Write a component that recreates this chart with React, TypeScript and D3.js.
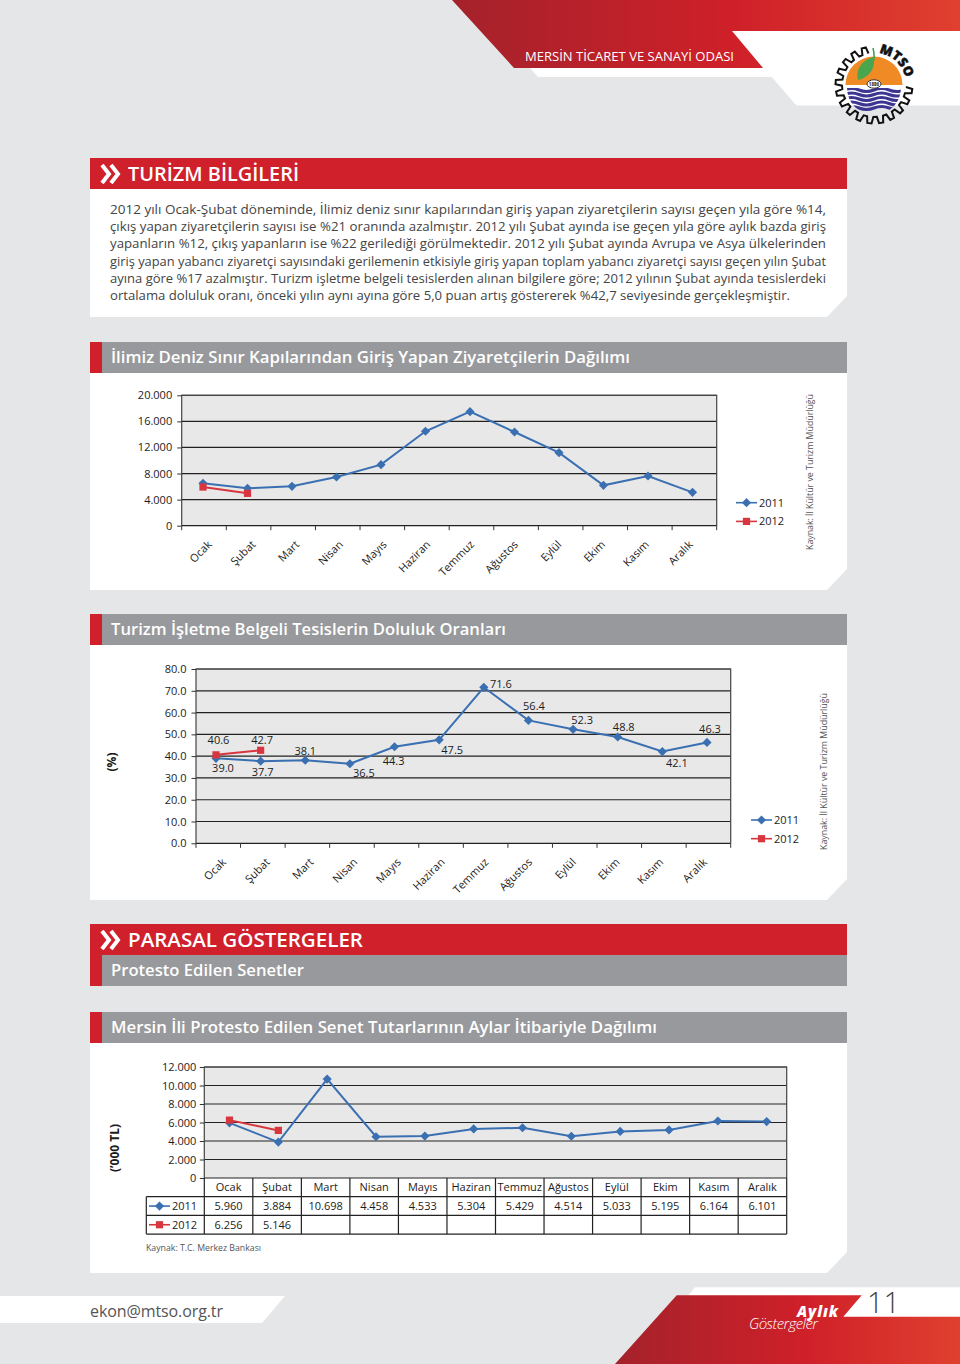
import React, { useEffect, useRef } from 'react';
import * as d3 from 'd3';

const months = ['Ocak', 'Şubat', 'Mart', 'Nisan', 'Mayıs', 'Haziran', 'Temmuz', 'Ağustos', 'Eylül', 'Ekim', 'Kasım', 'Aralık'];
const years = ['2011', '2012'];

// ziyaretci
const visitors2011 = [6500, 5730, 6040, 7470, 9360, 14480, 17490, 14370, 11200, 6190, 7620, 5115];
const visitors2012 = [5930, 4960];
const visitorTicks = [0, 4000, 8000, 12000, 16000, 20000];
const visitorTickLabels = ['0', '4.000', '8.000', '12.000', '16.000', '20.000'];

// doluluk
const occupancy2011 = [39.0, 37.7, 38.1, 36.5, 44.3, 47.5, 71.6, 56.4, 52.3, 48.8, 42.1, 46.3];
const occupancy2012 = [40.6, 42.7];
const occupancyTicks = [0, 10, 20, 30, 40, 50, 60, 70, 80];
const occupancyShift2011 = [[7, 10], [2, 11], [0, -9], [14, 9.5], [-1, 14.5], [13, 10], [17, -3], [5.5, -14], [9, -9], [6, -10], [14.5, 11.5], [3, -13.5]];
const occupancyShift2012 = [[2.5, -15], [1.5, -10]];

// protesto
const protest2011 = [5960, 3884, 10698, 4458, 4533, 5304, 5429, 4514, 5033, 5195, 6164, 6101];
const protest2012 = [6256, 5146];
const protestTicks = [0, 2000, 4000, 6000, 8000, 10000, 12000];
const protestTickLabels = ['0', '2.000', '4.000', '6.000', '8.000', '10.000', '12.000'];

const bodyLines = [
  '2012 yılı Ocak-Şubat döneminde, İlimiz deniz sınır kapılarından giriş yapan ziyaretçilerin sayısı geçen yıla göre %14,',
  'çıkış yapan ziyaretçilerin sayısı ise %21 oranında azalmıştır. 2012 yılı Şubat ayında ise geçen yıla göre aylık bazda giriş',
  'yapanların %12, çıkış yapanların ise %22 gerilediği görülmektedir. 2012 yılı Şubat ayında Avrupa ve Asya ülkelerinden',
  'giriş yapan yabancı ziyaretçi sayısındaki gerilemenin etkisiyle giriş yapan toplam yabancı ziyaretçi sayısı geçen yılın Şubat',
  'ayına göre %17 azalmıştır. Turizm işletme belgeli tesislerden alınan bilgilere göre; 2012 yılının Şubat ayında tesislerdeki',
  'ortalama doluluk oranı, önceki yılın aynı ayına göre 5,0 puan artış göstererek %42,7 seviyesinde gerçekleşmiştir.',
];
const bodyWidths = [716, 716, 716, 716, 716, 680];

const FONT = '"Open Sans", "Noto Sans", sans-serif';
const BLUE = '#3a70b2';
const RED = '#d8363f';
const INK = '#1c1c1c';
const SOURCE = 'Kaynak: İl Kültür ve Turizm Müdürlüğü';

const diamond = d3.symbol().type(d3.symbolSquare).size(42)();
const square = d3.symbol().type(d3.symbolSquare).size(52)();

const Marker = ({ kind, x, y }) =>
  kind === 0 ? (
    <path d={diamond} fill={BLUE} transform={`translate(${x},${y}) rotate(45)`} />
  ) : (
    <path d={square} fill={RED} transform={`translate(${x},${y})`} />
  );

// sol eksen, d3 axis ile
const YAxis = ({ y, left, ticks, labels, padding }) => {
  const ref = useRef(null);
  useEffect(() => {
    const axis = d3
      .axisLeft(y)
      .tickValues(ticks)
      .tickSize(4.5)
      .tickPadding(padding)
      .tickFormat((d, i) => labels[i]);
    const g = d3.select(ref.current).call(axis);
    g.select('.domain').remove();
    g.selectAll('line').attr('stroke', '#333');
    g.selectAll('text').attr('fill', INK).attr('font-size', 11).attr('font-family', FONT);
    g.attr('font-family', null);
  }, []);
  return <g ref={ref} transform={`translate(${left},0)`} />;
};

const Legend = ({ x, y }) => (
  <g>
    {years.map((yr, i) => {
      const rowY = y + i * 18.7;
      return (
        <g key={yr}>
          <line x1={x} x2={x + 21} y1={rowY} y2={rowY} stroke={i === 0 ? BLUE : RED} strokeWidth={1.6} />
          <Marker kind={i} x={x + 10.5} y={rowY} />
          <text x={x + 23} y={rowY + 4} fontSize={11} fill={INK} fontFamily={FONT}>{yr}</text>
        </g>
      );
    })}
  </g>
);

const Plot = ({ box, pointRange, y, ticks, series }) => {
  const px = d3.scalePoint().domain(months).range(pointRange);
  const line = d3
    .line()
    .x((d, i) => px(months[i]))
    .y((d) => y(d));
  return (
    <g>
      <rect x={box.left} y={box.top} width={box.right - box.left} height={box.bottom - box.top} fill="#e8e8e8" />
      {ticks.map((t) => (
        <line key={t} x1={box.left} x2={box.right} y1={y(t)} y2={y(t)} stroke="#222" strokeWidth={1.2} />
      ))}
      <path
        d={`M${box.left},${box.bottom}V${box.top}H${box.right}V${box.bottom}`}
        fill="none"
        stroke="#444"
        strokeWidth={1.2}
      />
      {series.map((values, k) => (
        <g key={k}>
          <path d={line(values)} fill="none" stroke={k === 0 ? BLUE : RED} strokeWidth={2} />
          {values.map((v, i) => (
            <Marker key={i} kind={k} x={px(months[i])} y={y(v)} />
          ))}
        </g>
      ))}
    </g>
  );
};

const MonthAxis = ({ box }) => {
  const band = d3.scaleBand().domain(months).range([box.left, box.right]);
  const edges = [...months.map((m) => band(m)), box.right];
  // etiketler eksenden biraz daha sik duruyor
  const labelX = d3.scalePoint().domain(months).range([box.left + 30.8, box.left + 511.8]);
  return (
    <g>
      {edges.map((x, i) => (
        <line key={i} x1={x} x2={x} y1={box.bottom} y2={box.bottom + 4.5} stroke="#333" />
      ))}
      {months.map((m) => (
        <text
          key={m}
          textAnchor="end"
          fontSize={11}
          fill={INK}
          fontFamily={FONT}
          transform={`translate(${labelX(m)},${box.bottom + 19.5}) rotate(-45)`}
        >
          {m}
        </text>
      ))}
    </g>
  );
};

const VisitorChart = () => {
  const box = { left: 181.7, right: 716.7, top: 395.3, bottom: 525.7 };
  const y = d3.scaleLinear().domain([0, 20000]).range([box.bottom, box.top]);
  return (
    <g>
      <Plot box={box} pointRange={[203, 692.5]} y={y} ticks={visitorTicks} series={[visitors2011, visitors2012]} />
      <YAxis y={y} left={box.left} ticks={visitorTicks} labels={visitorTickLabels} padding={5} />
      <MonthAxis box={box} />
      <Legend x={736} y={502.7} />
      <text transform="translate(813,550) rotate(-90)" fontSize={8.8} fill="#555" fontFamily={FONT} textLength={156} lengthAdjust="spacingAndGlyphs">{SOURCE}</text>
    </g>
  );
};

const OccupancyChart = () => {
  const box = { left: 196, right: 730.7, top: 669, bottom: 843.3 };
  const y = d3.scaleLinear().domain([0, 80]).range([box.bottom, box.top]);
  const px = d3.scalePoint().domain(months).range([216, 707]);
  const labels = (values, shifts) =>
    values.map((v, i) => (
      <text
        key={i}
        x={px(months[i]) + shifts[i][0]}
        y={y(v) + shifts[i][1] + 4}
        textAnchor="middle"
        fontSize={11}
        fill={INK}
        fontFamily={FONT}
      >
        {v.toFixed(1)}
      </text>
    ));
  return (
    <g>
      <Plot box={box} pointRange={[216, 707]} y={y} ticks={occupancyTicks} series={[occupancy2011, occupancy2012]} />
      <YAxis y={y} left={box.left} ticks={occupancyTicks} labels={occupancyTicks.map((t) => t.toFixed(1))} padding={5} />
      <MonthAxis box={box} />
      {labels(occupancy2011, occupancyShift2011)}
      {labels(occupancy2012, occupancyShift2012)}
      <Legend x={751} y={820} />
      <text transform="translate(116,762) rotate(-90)" textAnchor="middle" fontSize={12} fontWeight={700} fill={INK} fontFamily={FONT}>(%)</text>
      <text transform="translate(827,850) rotate(-90)" fontSize={8.8} fill="#555" fontFamily={FONT} textLength={157} lengthAdjust="spacingAndGlyphs">{SOURCE}</text>
    </g>
  );
};

const ProtestChart = () => {
  const box = { left: 204.3, right: 786.7, top: 1067, bottom: 1178 };
  const rowH = 18.7;
  const tableLeft = 146.3;
  const y = d3.scaleLinear().domain([0, 12000]).range([box.bottom, box.top]);
  const band = d3.scaleBand().domain(months).range([box.left, box.right]);
  const edges = [...months.map((m) => band(m)), box.right];
  const cell = (text, m, row) => (
    <text
      key={`${m}-${row}`}
      x={band(m) + band.bandwidth() / 2}
      y={box.bottom + rowH * row + 13.3}
      textAnchor="middle"
      fontSize={11}
      fill={INK}
      fontFamily={FONT}
    >
      {text}
    </text>
  );
  const fmt = (v) => d3.format(',')(v).replace(',', '.');
  return (
    <g>
      <Plot box={box} pointRange={[229.5, 766.7]} y={y} ticks={protestTicks} series={[protest2011, protest2012]} />
      <YAxis y={y} left={box.left} ticks={protestTicks} labels={protestTickLabels} padding={3.5} />
      {[1, 2, 3].map((r) => (
        <line key={r} x1={tableLeft} x2={box.right} y1={box.bottom + r * rowH} y2={box.bottom + r * rowH} stroke="#222" strokeWidth={1.2} />
      ))}
      {edges.map((x, i) => (
        <line key={i} x1={x} x2={x} y1={box.bottom} y2={box.bottom + 3 * rowH} stroke="#222" strokeWidth={1.2} />
      ))}
      <line x1={tableLeft} x2={tableLeft} y1={box.bottom + rowH} y2={box.bottom + 3 * rowH} stroke="#222" strokeWidth={1.2} />
      {months.map((m) => cell(m, m, 0))}
      {protest2011.map((v, i) => cell(fmt(v), months[i], 1))}
      {protest2012.map((v, i) => cell(fmt(v), months[i], 2))}
      <Legend x={149} y={box.bottom + 1.5 * rowH} />
      <text transform="translate(119,1148) rotate(-90)" textAnchor="middle" fontSize={12} fontWeight={700} fill={INK} fontFamily={FONT}>(’000 TL)</text>
      <text x={146} y={1250.5} fontSize={8.8} fill="#555" fontFamily={FONT} textLength={115} lengthAdjust="spacingAndGlyphs">Kaynak: T.C. Merkez Bankası</text>
    </g>
  );
};

const Panel = ({ top, bottom }) => (
  <path d={`M90,${top}H847V${bottom - 21}L827,${bottom}H90Z`} fill="#fff" />
);

const Chevrons = ({ y }) => (
  <path
    d={`M102,${y - 9}L109,${y}L102,${y + 9} M111,${y - 9}L118,${y}L111,${y + 9}`}
    fill="none"
    stroke="#fff"
    strokeWidth={4}
    strokeLinejoin="miter"
  />
);

const RedHeader = ({ top, title, width }) => (
  <g>
    <rect x={90} y={top} width={757} height={31} fill="#cf202c" />
    <Chevrons y={top + 16} />
    <text x={128} y={top + 22.5} fontSize={20} fontWeight={600} fill="#fff" fontFamily={FONT} textLength={width} lengthAdjust="spacingAndGlyphs">{title}</text>
  </g>
);

const GrayHeader = ({ top, title, width }) => (
  <g>
    <rect x={90} y={top} width={12} height={31} fill="#cf202c" />
    <rect x={102} y={top} width={745} height={31} fill="#97999c" />
    <text x={111} y={top + 21} fontSize={17} fontWeight={600} fill="#fff" fontFamily={FONT} textLength={width} lengthAdjust="spacingAndGlyphs">{title}</text>
  </g>
);

const Logo = () => {
  const cx = 874;
  const cy = 85;
  const steps = 15;
  const start = Math.PI * 0.52;
  const end = Math.PI * 1.98;
  const pts = [];
  for (let i = 0; i < steps; i++) {
    const a = start + ((end - start) * i) / steps;
    const w = (end - start) / steps;
    pts.push([a, 32], [a + w * 0.14, 38.5], [a + w * 0.5, 38.5], [a + w * 0.64, 32]);
  }
  const gear = d3.lineRadial()(pts);
  const half = d3.arc()({ innerRadius: 0, outerRadius: 28.5, startAngle: -Math.PI / 2, endAngle: Math.PI / 2 });
  const waveY = [90, 94.5, 99, 103.5, 108];
  const wave = (y0) =>
    `M${cx - 30},${y0} q7.5,-3 15,0 t15,0 t15,0 t15,0`;
  return (
    <g>
      <path d={gear} transform={`translate(${cx},${cy})`} fill="none" stroke="#111" strokeWidth={2} />
      <path d={half} transform={`translate(${cx},${cy})`} fill="#f08a24" />
      <clipPath id="sea">
        <path d={`M${cx - 27},${cy + 3}H${cx + 27}A27,27 0 0 1 ${cx - 27},${cy + 3}Z`} />
      </clipPath>
      <g clipPath="url(#sea)">
        {waveY.map((w) => (
          <path key={w} d={wave(w)} fill="none" stroke="#3c3592" strokeWidth={3} />
        ))}
      </g>
      <path d="M873,48 C875,56 874,60 873,62" fill="none" stroke="#3d9b47" strokeWidth={1.5} />
      <path d="M873,57 C877,68 868,78 858,80 C855,70 862,60 873,57Z" fill="#4aa64e" />
      <ellipse cx={874} cy={84} rx={7} ry={4.2} fill="#fff" stroke="#333" strokeWidth={1} />
      <text x={874} y={85.7} textAnchor="middle" fontSize={4.5} fontWeight={700} fill="#222" fontFamily={FONT}>1886</text>
      <path id="mtsoArc" d={`M${cx + 5},${cy - 32} A32,32 0 0 1 ${cx + 32},${cy - 3}`} fill="none" />
      <text fontSize={13} fontWeight={800} fill="#111" fontFamily={FONT} stroke="#111" strokeWidth={0.5}>
        <textPath href="#mtsoArc">MTSO</textPath>
      </text>
    </g>
  );
};

export default function App() {
  return (
    <svg
      width={960}
      height={1364}
      viewBox="0 0 960 1364"
      style={{ position: 'absolute', left: 0, top: 0, display: 'block' }}
    >
      <defs>
        <linearGradient id="banner" x1="0" x2="1" y1="0" y2="0">
          <stop offset="0" stopColor="#a4222b" />
          <stop offset="0.55" stopColor="#cf2029" />
          <stop offset="1" stopColor="#e0402f" />
        </linearGradient>
      </defs>
      <rect width={960} height={1364} fill="#e4e6e8" />

      {/* ust bant */}
      <path d="M538,68H763L732,31H960V105.5H796.5L771.7,77H538Z" fill="#fff" />
      <path d="M530,68H770L772,77H538Z" fill="#fff" />
      <path d="M452,0H960V31H732L763,68H514Z" fill="url(#banner)" />
      <text x={525} y={60.5} fontSize={12.5} fill="#fff" fontFamily={FONT} textLength={209} lengthAdjust="spacingAndGlyphs">MERSİN TİCARET VE SANAYİ ODASI</text>
      <Logo />

      <RedHeader top={158} title="TURİZM BİLGİLERİ" width={171} />
      <Panel top={189} bottom={317} />
      {bodyLines.map((t, i) => (
        <text key={i} x={110} y={214 + i * 17.2} fontSize={13.5} fill="#444" fontFamily={FONT} textLength={bodyWidths[i]} lengthAdjust="spacingAndGlyphs">{t}</text>
      ))}

      <GrayHeader top={342} title="İlimiz Deniz Sınır Kapılarından Giriş Yapan Ziyaretçilerin Dağılımı" width={519} />
      <Panel top={373} bottom={590} />
      <VisitorChart />

      <GrayHeader top={614} title="Turizm İşletme Belgeli Tesislerin Doluluk Oranları" width={395} />
      <Panel top={645} bottom={900} />
      <OccupancyChart />

      <RedHeader top={924} title="PARASAL GÖSTERGELER" width={235} />
      <GrayHeader top={955} title="Protesto Edilen Senetler" width={193} />

      <GrayHeader top={1012} title="Mersin İli Protesto Edilen Senet Tutarlarının Aylar İtibariyle Dağılımı" width={546} />
      <Panel top={1043} bottom={1273} />
      <ProtestChart />

      {/* alt bant */}
      <path d="M0,1296H285L262,1323H0Z" fill="#fff" />
      <text x={90} y={1317} fontSize={16} fill="#555" fontFamily={FONT} textLength={133}>ekon@mtso.org.tr</text>
      <path d="M695,1287.3H960V1317H843L860,1296H688Z" fill="#fff" />
      <path d="M676.7,1295.3H861.7L843.3,1316.7H960V1364H615Z" fill="url(#banner)" />
      <text x={797} y={1317} fontSize={15} fontWeight={800} fontStyle="italic" fill="#fff" fontFamily={FONT} textLength={41}>Aylık</text>
      <text x={749} y={1329} fontSize={15} fontWeight={300} fontStyle="italic" fill="#fff" fontFamily={FONT} textLength={69}>Göstergeler</text>
      <text x={867} y={1313} fontSize={29} fontWeight={300} fill="#444" fontFamily={FONT}>11</text>
    </svg>
  );
}
